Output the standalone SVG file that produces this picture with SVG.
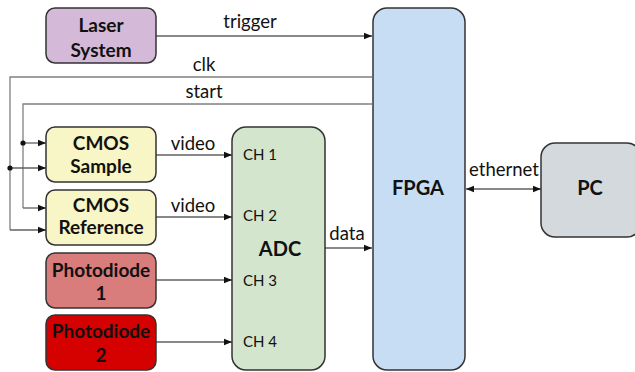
<svg xmlns="http://www.w3.org/2000/svg" width="635" height="372" viewBox="0 0 635 372">
  <defs>
    <marker id="arr" viewBox="0 0 10 10" refX="10" refY="5" markerWidth="8" markerHeight="8" markerUnits="userSpaceOnUse" orient="auto-start-reverse">
      <path d="M0,1 L10,5 L0,9 z" fill="#111"/>
    </marker>
  </defs>
  <style>
    .box { stroke: #333; stroke-width: 1.5; }
    .title { font-family: Lato, "Open Sans", sans-serif; font-weight: bold; font-size: 19px; fill: #111; text-anchor: middle; }
    .big { font-size: 20px; }
    .lbl { font-family: Lato, "Open Sans", sans-serif; font-size: 18.5px; fill: #111; text-anchor: middle; }
    .ch { font-family: Lato, "Open Sans", sans-serif; font-size: 15px; fill: #111; }
    .wire { fill: none; stroke: #808080; stroke-width: 1.3; }
    .arrow { fill: none; stroke: #606060; stroke-width: 1.3; marker-end: url(#arr); }
  </style>

  <!-- connectors -->
  <g id="connectors">
    <path class="arrow" d="M156,36 H372"/>
    <path class="wire" d="M372,77 H10 V230"/>
    <path class="wire" d="M372,104 H23 V208"/>
    <path class="arrow" d="M23,143 H46"/>
    <path class="arrow" d="M10,168 H46"/>
    <path class="arrow" d="M23,208 H46"/>
    <path class="arrow" d="M10,230 H46"/>
    <circle cx="23" cy="143" r="2.6" fill="#111"/>
    <circle cx="10" cy="168" r="2.6" fill="#111"/>
    <path class="arrow" d="M156,155 H232"/>
    <path class="arrow" d="M156,217 H232"/>
    <path class="arrow" d="M156,280 H232"/>
    <path class="arrow" d="M156,342 H232"/>
    <path class="arrow" d="M325,248 H372"/>
    <path class="arrow" style="marker-start:url(#arr)" d="M466,189 H541"/>
    <text class="lbl" x="250" y="28">trigger</text>
    <text class="lbl" x="204" y="71">clk</text>
    <text class="lbl" x="204" y="98">start</text>
    <text class="lbl" x="193" y="150">video</text>
    <text class="lbl" x="193" y="212">video</text>
    <text class="lbl" x="347" y="240">data</text>
    <text class="lbl" x="504" y="176">ethernet</text>
  </g>

  <g id="laser">
    <rect class="box" x="46" y="8" width="110" height="55" rx="9" fill="#d5b9d8"/>
    <text class="title" x="101" y="32">Laser</text>
    <text class="title" x="101" y="57">System</text>
  </g>
  <g id="cmos-sample">
    <rect class="box" x="46" y="127" width="110" height="55" rx="9" fill="#f8f5c6"/>
    <text class="title" x="101" y="150">CMOS</text>
    <text class="title" x="101" y="173">Sample</text>
  </g>
  <g id="cmos-reference">
    <rect class="box" x="46" y="190" width="110" height="55" rx="9" fill="#f8f5c6"/>
    <text class="title" x="101" y="212">CMOS</text>
    <text class="title" x="101" y="234">Reference</text>
  </g>
  <g id="photodiode-1">
    <rect class="box" x="46" y="253" width="110" height="55" rx="9" fill="#d97c7c"/>
    <text class="title" x="101" y="277">Photodiode</text>
    <text class="title" x="101" y="300">1</text>
  </g>
  <g id="photodiode-2">
    <rect class="box" x="46" y="315" width="110" height="55" rx="9" fill="#d50000"/>
    <text class="title" x="101" y="338">Photodiode</text>
    <text class="title" x="101" y="362">2</text>
  </g>
  <g id="adc">
    <rect class="box" x="232" y="127" width="93" height="243" rx="14" fill="#d3e5cc"/>
    <text class="title big" x="280" y="256">ADC</text>
    <text class="ch" x="243" y="160">CH 1</text>
    <text class="ch" x="243" y="221">CH 2</text>
    <text class="ch" x="243" y="286">CH 3</text>
    <text class="ch" x="243" y="347">CH 4</text>
  </g>
  <g id="fpga">
    <rect class="box" x="373" y="8" width="92" height="362" rx="14" fill="#c6ddf4"/>
    <text class="title big" x="418" y="195">FPGA</text>
  </g>
  <g id="pc">
    <rect class="box" x="541" y="143" width="100" height="94" rx="14" fill="#d4d9de"/>
    <text class="title big" x="590" y="195">PC</text>
  </g>
</svg>
